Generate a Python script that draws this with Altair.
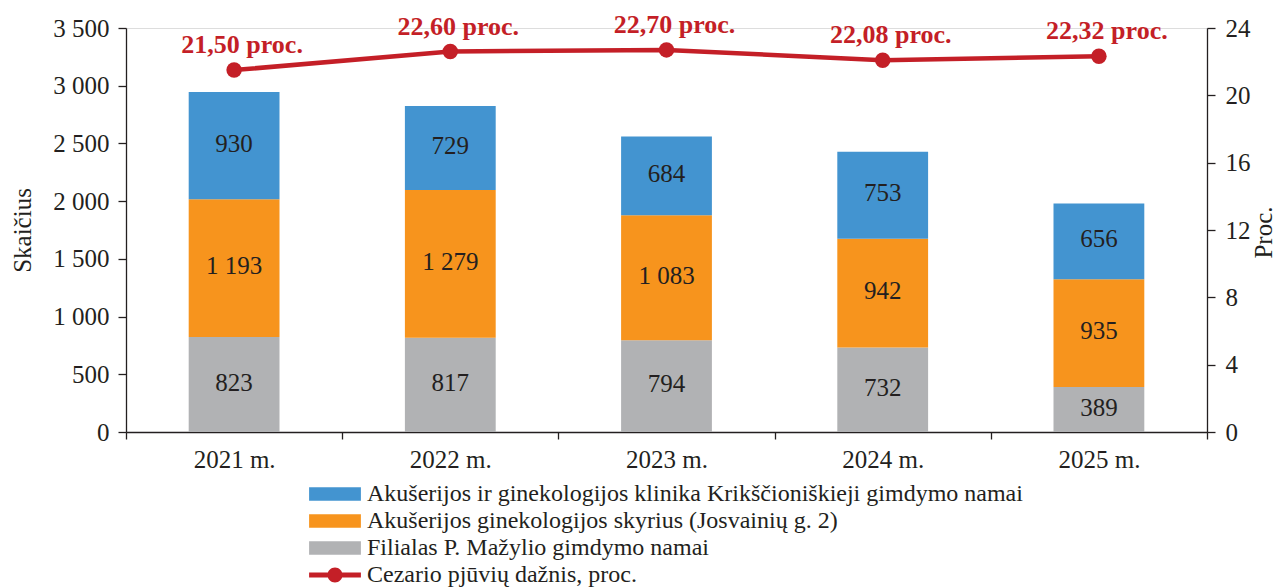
import altair as alt
import pandas as pd

years = ["2021 m.", "2022 m.", "2023 m.", "2024 m.", "2025 m."]
gray_vals = [823, 817, 794, 732, 389]
orange_vals = [1193, 1279, 1083, 942, 935]
blue_vals = [930, 729, 684, 753, 656]
rate_vals = [21.50, 22.60, 22.70, 22.08, 22.32]

series_names = [
    "Akušerijos ir ginekologijos klinika Krikščioniškieji gimdymo namai",
    "Akušerijos ginekologijos skyrius (Josvainių g. 2)",
    "Filialas P. Mažylio gimdymo namai",
]
line_name = "Cezario pjūvių dažnis, proc."

BLUE = "#4394D0"
ORANGE = "#F7941D"
GRAY = "#B1B2B4"
RED = "#C41F27"
INK = "#231F20"
FONT = "Liberation Serif"

rows = []
for i, yr in enumerate(years):
    for name, vals, order in [
        (series_names[2], gray_vals, 0),
        (series_names[1], orange_vals, 1),
        (series_names[0], blue_vals, 2),
    ]:
        rows.append({"year": yr, "series": name, "value": vals[i], "order": order})
bars_df = pd.DataFrame(rows)
line_df = pd.DataFrame({"year": years, "rate": rate_vals, "series": line_name})

x_enc = alt.X(
    "year:N",
    sort=years,
    scale=alt.Scale(paddingInner=0, paddingOuter=0),
    axis=alt.Axis(
        title=None, tickBand="extent", labelAngle=0, labelFont=FONT,
        labelFontSize=25, labelColor=INK, labelPadding=8, tickSize=7,
        tickColor=INK, domainColor=INK, domainWidth=1.3, tickWidth=1.3,
    ),
)

left_axis = alt.Axis(
    orient="left", values=list(range(0, 3501, 500)),
    labelExpr="replace(format(datum.value, ','), ',', ' ')",
    labelFont=FONT, labelFontSize=25, labelColor=INK, labelPadding=9,
    tickSize=8, tickColor=INK, tickWidth=1.3, domainColor=INK, domainWidth=1.3,
    grid=False, title="Skaičius", titleFont=FONT, titleFontSize=25,
    titleFontWeight="normal", titleColor=INK, titleAngle=270,
    titleX=-104, titleY=202, titleAlign="center", titleBaseline="middle",
)

right_axis = alt.Axis(
    orient="right", values=list(range(0, 25, 4)),
    labelFont=FONT, labelFontSize=25, labelColor=INK, labelPadding=10,
    tickSize=8, tickColor=INK, tickWidth=1.3, domainColor=INK, domainWidth=1.3,
    grid=False, title="Proc.", titleFont=FONT, titleFontSize=25,
    titleFontWeight="normal", titleColor=INK, titleAngle=270,
    titleX=64, titleY=204, titleAlign="center", titleBaseline="alphabetic",
)

y_left_scale = alt.Scale(domain=[0, 3500], nice=False)
y_right_scale = alt.Scale(domain=[0, 24], nice=False)

base_bar = alt.Chart(bars_df).transform_stack(
    stack="value", groupby=["year"], as_=["v0", "v1"],
    sort=[alt.SortField("order", "ascending")],
).transform_calculate(
    mid="(datum.v0 + datum.v1) / 2",
    lab="replace(format(datum.value, ','), ',', ' ')",
)

bars = base_bar.mark_bar(width=alt.RelativeBandSize(0.42)).encode(
    x=x_enc,
    y=alt.Y("v0:Q", scale=y_left_scale, axis=left_axis),
    y2="v1:Q",
    color=alt.Color(
        "series:N",
        scale=alt.Scale(domain=series_names, range=[BLUE, ORANGE, GRAY]),
        legend=alt.Legend(
            title=None, orient="none", legendX=197, legendY=454,
            symbolType="M-3.7,-0.95L3.7,-0.95L3.7,0.95L-3.7,0.95Z",
            symbolSize=196, symbolStrokeWidth=0, symbolOpacity=1,
            labelFont=FONT, labelFontSize=24, labelColor=INK,
            labelOffset=20, rowPadding=3, labelLimit=1000,
        ),
    ),
)

bar_text = base_bar.mark_text(font=FONT, fontSize=25, color=INK, dy=-2).encode(
    x=x_enc,
    y=alt.Y("mid:Q", scale=y_left_scale, axis=left_axis),
    text="lab:N",
)

line_base = alt.Chart(line_df).transform_calculate(
    rlab="replace(format(datum.rate, '.2f'), '.', ',') + ' proc.'"
)

line = line_base.mark_line(strokeWidth=4.5).encode(
    x=x_enc,
    y=alt.Y("rate:Q", scale=y_right_scale, axis=right_axis),
    color=alt.Color(
        "series:N",
        scale=alt.Scale(domain=[line_name], range=[RED]),
        legend=alt.Legend(
            title=None, orient="none", legendX=197, legendY=535,
            symbolType="M-3.7,-0.36L3.7,-0.36L3.7,0.36L-3.7,0.36Z M-1.07,0A1.07,1.07 0 1,1 1.07,0A1.07,1.07 0 1,1 -1.07,0Z",
            symbolSize=196, symbolStrokeWidth=0, symbolFillColor=RED,
            symbolOpacity=1,
            labelFont=FONT, labelFontSize=24, labelColor=INK,
            labelOffset=20, labelLimit=1000,
        ),
    ),
)

points = line_base.mark_circle(size=240, opacity=1, color=RED).encode(
    x=x_enc,
    y=alt.Y("rate:Q", scale=y_right_scale, axis=right_axis),
)

rate_text = line_base.mark_text(
    font=FONT, fontSize=26, fontWeight="bold", color=RED,
    baseline="alphabetic", align="center", dx=8, dy=-17,
).encode(
    x=x_enc,
    y=alt.Y("rate:Q", scale=y_right_scale, axis=right_axis),
    text="rlab:N",
)

chart = alt.layer(
    alt.layer(bars, bar_text),
    alt.layer(line, points, rate_text),
).resolve_scale(
    y="independent", color="independent"
).properties(
    width=1081, height=404,
    autosize=alt.AutoSizeParams(type="none"),
    padding={"left": 118, "top": 20, "right": 72, "bottom": 155},
).configure_view(stroke=None).configure(background="white")

chart.save("out.html", embed_options={"renderer": "svg", "actions": False})
